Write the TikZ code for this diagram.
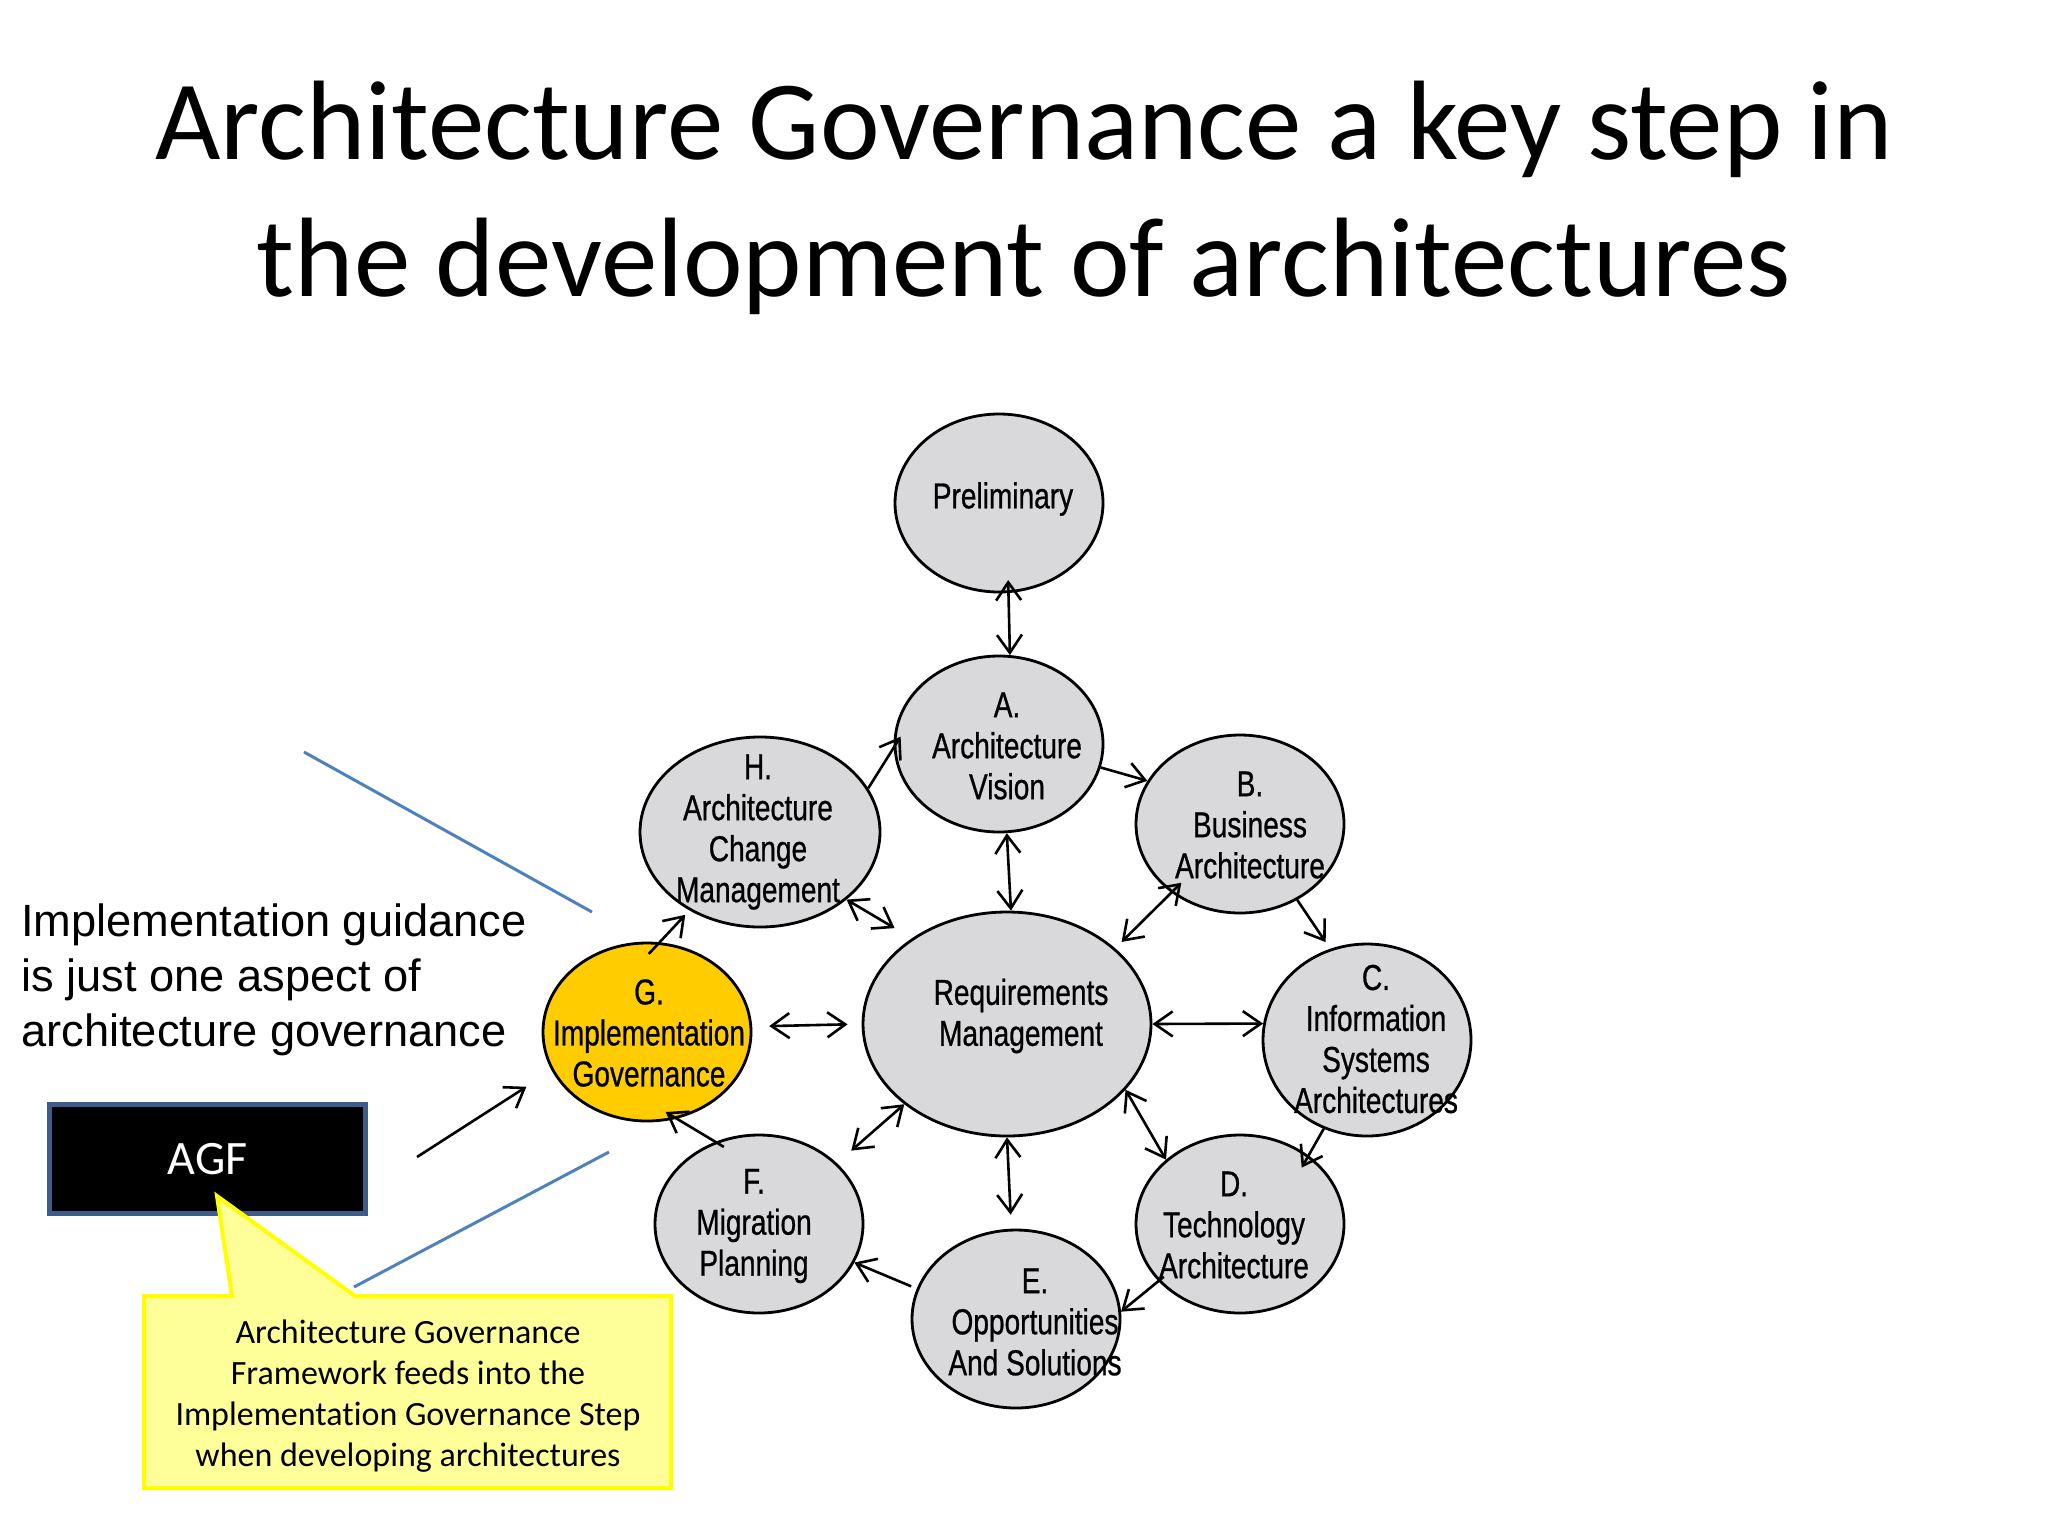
\documentclass[tikz,border=0pt]{standalone}
\usepackage{fontspec}
\setmainfont{Liberation Sans}
\newfontfamily\calib[Ligatures=NoCommon]{Carlito}
\newfontfamily\narrowf[FakeStretch=0.78,FakeBold=0.7]{Liberation Sans}
\usetikzlibrary{shapes.geometric,arrows.meta}
\definecolor{phasegrey}{HTML}{D9D9DB}
\definecolor{gyellow}{HTML}{FFCC00}
\definecolor{lineblue}{HTML}{4F81BD}
\definecolor{agfblue}{HTML}{3E5C8A}
\definecolor{calloutfill}{HTML}{FFFF99}
\definecolor{calloutedge}{HTML}{FFFF00}
\begin{document}
\begin{tikzpicture}[x=0.5pt,y=-0.5pt,
  >={Straight Barb[length=9pt,width=12.5pt]},
  phase/.style={ellipse, draw=black, line width=1.4pt, fill=phasegrey, inner sep=0pt, minimum width=104pt, minimum height=89pt},
  ptext/.style={inner sep=0pt, align=center, font=\narrowf\fontsize{18pt}{20.5pt}\selectfont},
  link/.style={line width=1.3pt, draw=black},
  blueline/.style={line width=1.5pt, draw=lineblue}
]
\fill[white] (0,0) rectangle (2048,1536);
\useasboundingbox (0,0) rectangle (2048,1536);

% title
\node[font=\calib\fontsize{56.5pt}{68.5pt}\selectfont, align=center, inner sep=0pt, anchor=north] (title) at (1024,81)
  {Architecture Governance a key step in\\the development of architectures};

% left text
\node[font=\fontsize{22.6pt}{27.5pt}\selectfont, align=left, inner sep=0pt, anchor=north west] (guide) at (21,903)
  {Implementation guidance\\is just one aspect of\\architecture governance};

% blue guide lines
\coordinate (b1s) at (304,752);
\coordinate (b1e) at (592,912);
\coordinate (b2s) at (609,1152);
\coordinate (b2e) at (354,1287);
\draw[blueline] (b1s) -- (b1e);
\draw[blueline] (b2s) -- (b2e);

% phases
\node[phase] (Prel) at (999,503) {};
\node[phase, minimum height=88pt] (A) at (999,744) {};
\node[phase, minimum width=120pt, minimum height=95pt] (H) at (760,832) {};
\node[phase] (B) at (1240,824) {};
\node[phase, minimum width=144pt, minimum height=112pt] (Req) at (1007,1024) {};
\node[phase, fill=gyellow] (G) at (647,1032) {};
\node[phase, minimum height=96pt] (C) at (1367,1040) {};
\node[phase] (D) at (1240,1224) {};
\node[phase] (F) at (759,1224) {};
\node[phase] (E) at (1016,1319) {};

\node[ptext] (Preltext) at (1003,499) {Preliminary};
\node[ptext] (Atext) at (1007,746) {A.\\Architecture\\Vision};
\node[ptext] (Htext) at (758,832) {H.\\Architecture\\Change\\Management};
\node[ptext] (Btext) at (1250,825) {B.\\Business\\Architecture};
\node[ptext] (Reqtext) at (1021,1016) {Requirements\\Management};
\node[ptext] (Gtext) at (649,1033) {G.\\Implementation\\Governance};
\node[ptext] (Ctext) at (1376,1039) {C.\\Information\\Systems\\Architectures};
\node[ptext] (Dtext) at (1234,1225) {D.\\Technology\\Architecture};
\node[ptext] (Ftext) at (754,1226) {F.\\Migration\\Planning};
\node[ptext] (Etext) at (1035,1322) {E.\\Opportunities\\And Solutions};

% connectors
\draw[link,<->,shorten <=-6.5pt] (Prel.-84) -- (A.83);
\draw[link,->,shorten >=-6.5pt] (H.22.7) -- (A.182);
\draw[link,->] (A.-13) -- (B.155.6);
\draw[link,<->] (A.-85) -- (Req.88.5);
\draw[link,<->,shorten >=10pt] (H.-38) -- (Req.138.8);
\draw[link,<->,shorten <=-7pt,shorten >=4.5pt] (B.225.5) -- (Req.35.4);
\draw[link,->,shorten >=4pt] (B.-53.5) -- (C.112.4);
\draw[link,<->,shorten <=8.5pt,shorten >=7pt] (G.3) -- (Req.180);
\draw[link,<->] (Req.0) -- (C.171);
\draw[link,->,shorten <=-8pt,shorten >=3pt] (G.82) -- (H.228.3);
\draw[link,->,shorten >=-7pt] (C.244.3) -- (D.45.5);
\draw[link,<->] (Req.-29.3) -- (D.139.1);
\draw[link,<->,shorten >=9.5pt] (Req.218.1) -- (F.38.4);
\draw[link,->,shorten <=-5pt,shorten >=-6.5pt] (F.118.4) -- (G.-71.8);
\draw[link,<->,shorten >=7pt] (Req.-90) -- (E.93);
\draw[link,->,shorten <=3pt] (E.163.4) -- (F.-22.7);
\draw[link,->,shorten <=-3.5pt] (D.215.6) -- (E.4.9);

% AGF box and arrow
\node[draw=agfblue, line width=2.5pt, fill=black, minimum width=158pt, minimum height=54.5pt, inner sep=0pt,
      text=white, font=\calib\fontsize{24pt}{28pt}\selectfont] (AGF) at (207.5,1159) {AGF};
\coordinate (agfout) at (417,1157);
\draw[link,->,shorten >=15pt] (agfout) -- (G.202.6);

% callout
\filldraw[fill=calloutfill, draw=calloutedge, line width=2pt, line join=miter]
  (144,1296) -- (232,1296) -- (217,1196) -- (355,1296) -- (671,1296) -- (671,1488) -- (144,1488) -- cycle;
\node[inner sep=0pt, align=center, font=\calib\fontsize{17pt}{20.5pt}\selectfont] (callouttext) at (408,1396)
  {Architecture Governance\\Framework feeds into the\\Implementation Governance Step\\when developing architectures};
\end{tikzpicture}
\end{document}
